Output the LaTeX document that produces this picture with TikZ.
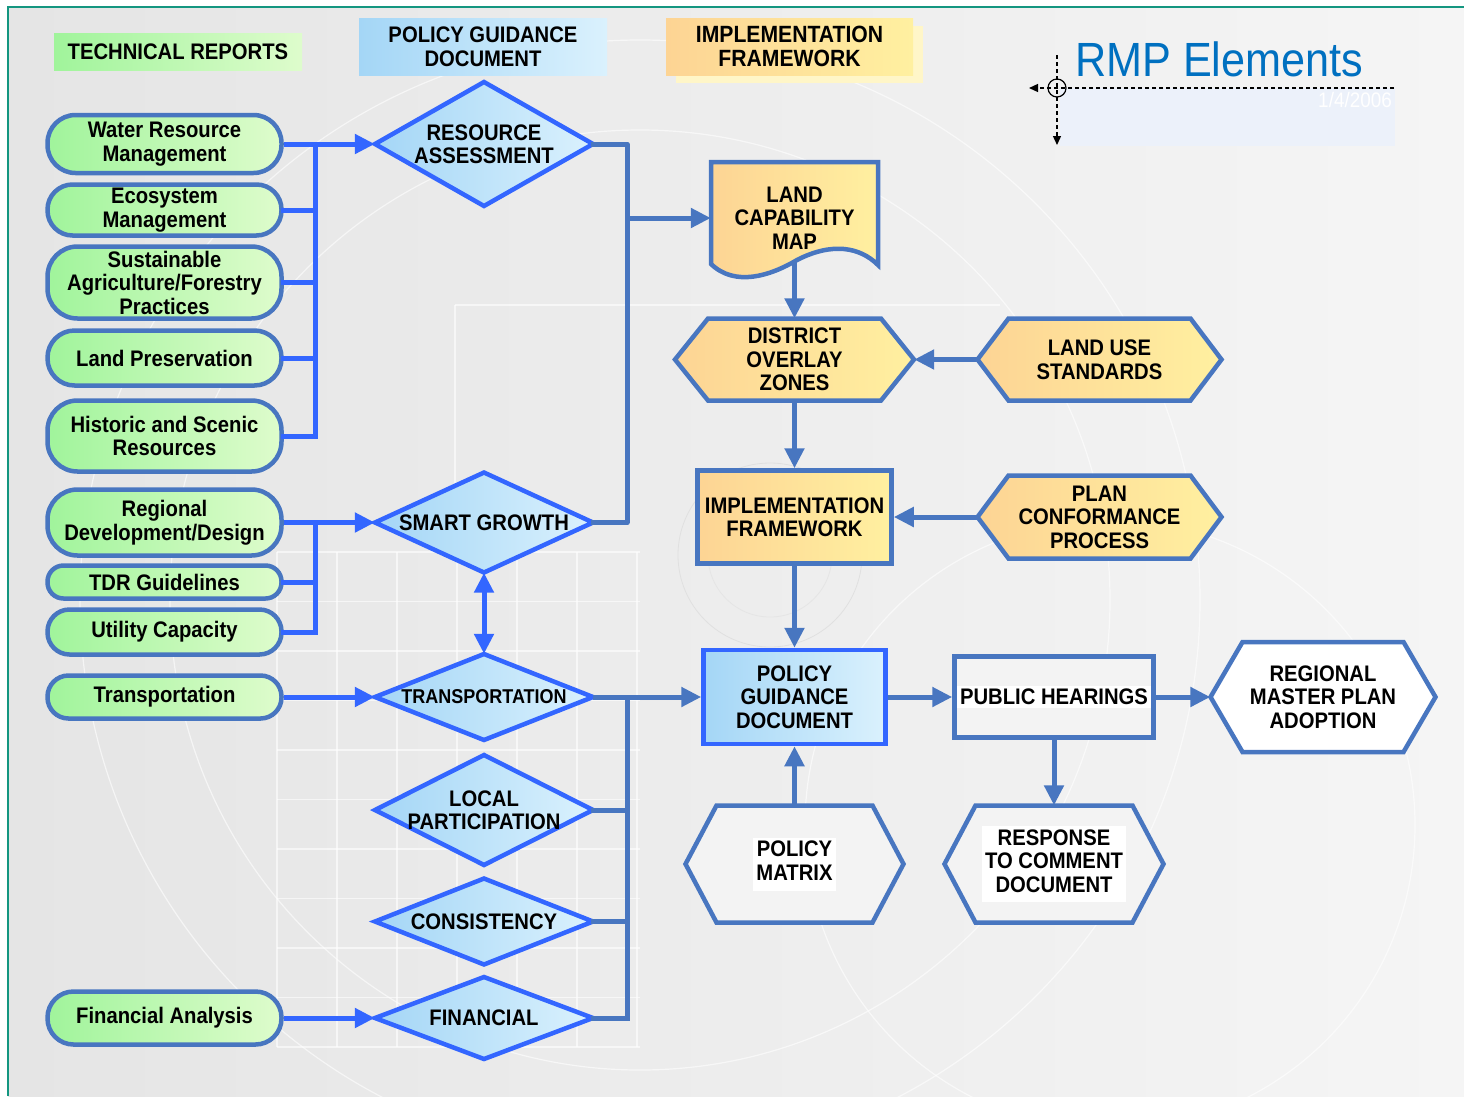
\documentclass[tikz,border=0pt]{standalone}
\usepackage{fontspec}
\setmainfont{Liberation Sans}[FakeStretch=0.9]
\usetikzlibrary{arrows.meta,calc}

\definecolor{steel}{RGB}{72,118,192}
\definecolor{bright}{RGB}{51,102,255}
\definecolor{gA}{RGB}{160,244,155}
\definecolor{gB}{RGB}{222,252,204}
\definecolor{bA}{RGB}{164,214,246}
\definecolor{bB}{RGB}{218,241,253}
\definecolor{yA}{RGB}{253,212,148}
\definecolor{yB}{RGB}{255,240,160}
\definecolor{yS}{RGB}{255,246,200}
\definecolor{wA}{RGB}{243,243,243}
\definecolor{bgl}{RGB}{229,229,229}
\definecolor{bgr}{RGB}{245,245,245}
\definecolor{tealline}{RGB}{20,150,128}
\definecolor{rmpblue}{RGB}{0,112,192}
\definecolor{rmpbox}{RGB}{236,241,250}

\newcommand\fb{\fontsize{22.5}{23.5}\selectfont\bfseries}
\newcommand\fbs{\fontsize{20}{22}\selectfont\bfseries}

\tikzset{
 tx/.style={shape=rectangle, inner sep=0pt, align=center, font=\fb, text=black},
 pill/.style={tx, draw=steel, line width=4.5pt, left color=gA, right color=gB, minimum width=234pt, rounded corners=#1},
 dshape/.style={draw=bright, line width=4.5pt, left color=bA, right color=bB, line join=miter},
 yshape/.style={draw=steel, line width=4.5pt, left color=yA, right color=yB, line join=miter},
 wshape/.style={draw=steel, line width=4.5pt, fill=wA, line join=miter},
 whshape/.style={draw=steel, line width=4.5pt, fill=white, line join=miter},
 bline/.style={draw=bright, line width=5pt, line cap=rect, line join=round},
 sline/.style={draw=steel, line width=5pt, line cap=rect, line join=round},
 arr/.style={-{Triangle[length=20pt,width=19pt]}, line cap=butt},
 darr/.style={{Triangle[length=20pt,width=19pt]}-{Triangle[length=20pt,width=19pt]}, line cap=butt},
 deco/.style={draw=white, line width=1.2pt, opacity=0.6},
 dline/.style={draw=black, line width=1.3pt, dash pattern=on 4pt off 3pt},
}

% #1 name #2 cx #3 cy #4 halfw #5 halfh #6 inset #7 style #8 text
\newcommand\hexnode[8]{%
 \path[#7] (#2-#4,#3) -- (#2-#4+#6,#3-#5) -- (#2+#4-#6,#3-#5) -- (#2+#4,#3) -- (#2+#4-#6,#3+#5) -- (#2-#4+#6,#3+#5) -- cycle;
 \node[tx, minimum width=2*#4pt, minimum height=2*#5pt] (#1) at (#2,#3) {#8};}
% #1 name #2 cx #3 cy #4 halfw #5 halfh #6 text
\newcommand\dianode[6]{%
 \path[dshape] (#2-#4,#3) -- (#2,#3-#5) -- (#2+#4,#3) -- (#2,#3+#5) -- cycle;
 \node[tx, minimum width=2*#4pt, minimum height=2*#5pt] (#1) at (#2,#3) {#6};}

\begin{document}
\begin{tikzpicture}[x=1pt,y=-1pt]
\useasboundingbox (0,0) rectangle (1464,1096);
\fill[white] (0,0) rectangle (1464,1096);
\shade[left color=bgl, right color=bgr] (8,7) rectangle (1464,1096);

% background decoration
\begin{scope}
 \clip (8,7) rectangle (1464,1096);
 \foreach \i in {0,...,6} \draw[deco] (277+60*\i,552) -- (277+60*\i,1047);
 \foreach \i in {0,...,10} \draw[deco] (277,552+49.5*\i) -- (640,552+49.5*\i);
 \draw[deco] (1110,825) circle[radius=305];
 \draw[deco] (640,600) circle[radius=560];
 \draw[deco] (640,600) circle[radius=470];
 \draw[deco] (455,305) -- (1000,305);
 \draw[deco] (455,305) -- (455,552);
 \draw[draw=black!12, line width=0.8pt] (770,555) circle[radius=92];
 \draw[draw=black!10, line width=0.8pt] (770,555) circle[radius=62];
\end{scope}
\draw[tealline, line width=2pt] (8,1096) -- (8,7) -- (1464,7);

% headers
\node[tx, left color=gA, right color=gB, minimum width=248pt, minimum height=37pt] (hTR) at (178,52) {TECHNICAL REPORTS};
\node[tx, left color=bA, right color=bB, minimum width=248pt, minimum height=57pt] (hPG) at (483,46.5) {POLICY GUIDANCE\\DOCUMENT};
\fill[yS] (676,26) rectangle (923,83);
\node[tx, left color=yA, right color=yB, minimum width=247pt, minimum height=57pt, font=\fontsize{23.5}{24}\selectfont\bfseries] (hIF) at (789.5,46.5) {IMPLEMENTATION\\FRAMEWORK};

% RMP title block
\fill[rmpbox] (1060,88) rectangle (1395,146);
\node[anchor=base west, inner sep=0pt, font=\fontsize{48}{50}\selectfont, text=rmpblue] (title) at (1075,76) {RMP Elements};
\node[anchor=base east, inner sep=0pt, font=\fontsize{21}{22}\selectfont, text=white] (date) at (1392,107) {1/4/2006};
\coordinate (cc) at (1057,88);
\coordinate (hR) at (1394,88);
\coordinate (hL) at (1029,88);
\coordinate (vT) at (1057,55);
\coordinate (vB) at (1057,145);
\draw[dline, -{Triangle[length=9pt,width=8pt]}] (hR) -- (hL);
\draw[dline, -{Triangle[length=9pt,width=8pt]}] (vT) -- (vB);
\draw[black, line width=1.2pt] (cc) circle[radius=9];

% left pills
\node[pill=28pt, minimum height=58pt] (wrm) at (164.5,144) {Water Resource\\Management};
\node[pill=25pt, minimum height=51pt] (eco) at (164.5,210) {Ecosystem\\Management};
\node[pill=30pt, minimum height=72pt] (sap) at (164.5,282.5) {Sustainable\\Agriculture/Forestry\\Practices};
\node[pill=27pt, minimum height=55pt] (lpr) at (164.5,358) {Land Preservation};
\node[pill=30pt, minimum height=71pt] (hsr) at (164.5,436) {Historic and Scenic\\Resources};
\node[pill=30pt, minimum height=66pt] (rdd) at (164.5,522.5) {Regional\\Development/Design};
\node[pill=16pt, minimum height=33pt] (tdr) at (164.5,582) {TDR Guidelines};
\node[pill=22pt, minimum height=45pt] (uc) at (164.5,632) {Utility Capacity};
\node[pill=21pt, minimum height=43pt] (tpn) at (164.5,697) {Transportation};
\node[pill=26pt, minimum height=53pt] (fa) at (164.5,1018) {Financial Analysis};

% diamonds
\dianode{ra}{484}{144}{109}{62}{RESOURCE\\ASSESSMENT}
\dianode{sg}{484}{522.5}{109}{50}{SMART GROWTH}
\dianode{tr}{484}{697}{109}{43}{{\fbs TRANSPORTATION}}
\dianode{lp}{484}{810}{109}{55}{LOCAL\\PARTICIPATION}
\dianode{cons}{484}{921.5}{109}{43}{CONSISTENCY}
\dianode{fin}{484}{1018}{109}{41}{FINANCIAL}

% land capability map (document shape)
\path[yshape] (711,162) -- (878,162) -- (878,265) .. controls (860,247) and (832,242) .. (797,260) .. controls (770,276) and (735,287) .. (711,264) -- cycle;
\node[tx, minimum width=167pt, minimum height=112pt] (lcm) at (794.5,218) {LAND\\CAPABILITY\\MAP};

% hexagons
\hexnode{dz}{794.5}{359.5}{119.5}{41}{33}{yshape}{DISTRICT\\OVERLAY\\ZONES}
\hexnode{lu}{1099.5}{359.5}{122}{41}{31}{yshape}{LAND USE\\STANDARDS}
\hexnode{pc}{1099.5}{517}{122}{41.5}{31}{yshape}{PLAN\\CONFORMANCE\\PROCESS}
\hexnode{rmp}{1323}{697}{112.5}{55}{32}{whshape}{REGIONAL\\MASTER PLAN\\ADOPTION}
\hexnode{pm}{794.5}{864}{109}{58.5}{31}{wshape}{\colorbox{white}{\begin{tabular}{@{}c@{}}POLICY\\MATRIX\end{tabular}}}
\hexnode{resp}{1054}{864}{109.5}{58.5}{31}{wshape}{\colorbox{white}{\begin{tabular}{@{}c@{}}RESPONSE\\TO COMMENT\\DOCUMENT\end{tabular}}}

% boxes
\node[tx, draw=steel, line width=4.5pt, left color=yA, right color=yB, minimum width=194pt, minimum height=93pt] (impl) at (794.5,517) {IMPLEMENTATION\\FRAMEWORK};
\node[tx, draw=bright, line width=4.5pt, left color=bA, right color=bB, minimum width=182pt, minimum height=94pt] (pgd) at (794.5,697) {POLICY\\GUIDANCE\\DOCUMENT};
\node[tx, draw=steel, line width=4.5pt, fill=wA, minimum width=199pt, minimum height=81pt] (ph) at (1054,697) {\colorbox{white}{PUBLIC HEARINGS}};

% left connectors
\coordinate (bx1) at (315,0);
\draw[bline, arr] (wrm.east) -- (ra.west);
\draw[bline] (wrm.east -| bx1) -- (hsr.east -| bx1);
\foreach \n in {eco,sap,lpr,hsr} \draw[bline] (\n.east) -- (\n.east -| bx1);
\draw[bline, arr] (rdd.east) -- (sg.west);
\draw[bline] (rdd.east -| bx1) -- (uc.east -| bx1);
\foreach \n in {tdr,uc} \draw[bline] (\n.east) -- (\n.east -| bx1);
\draw[bline, arr] (tpn.east) -- (tr.west);
\draw[bline, arr] (fa.east) -- (fin.west);
\draw[bline, darr] (sg.south) -- (tr.north);

% right connectors
\coordinate (bx2) at (627,0);
\draw[sline] (ra.east) -- (ra.east -| bx2) -- (sg.east -| bx2) -- (sg.east);
\draw[sline, arr] (lcm.west -| bx2) -- (lcm.west);
\draw[sline, arr] (tr.east) -- (pgd.west);
\draw[sline] (tr.east -| bx2) -- (fin.east -| bx2);
\foreach \n in {lp,cons,fin} \draw[sline] (\n.east) -- (\n.east -| bx2);

\draw[sline, arr] ([yshift=13pt]lcm.south) -- (dz.north);
\draw[sline, arr] (lu.west) -- (dz.east);
\draw[sline, arr] (dz.south) -- (impl.north);
\draw[sline, arr] (pc.west) -- (impl.east);
\draw[sline, arr] (impl.south) -- (pgd.north);
\draw[sline, arr] (pgd.east) -- (ph.west);
\draw[sline, arr] (ph.east) -- (rmp.west);
\draw[sline, arr] (ph.south) -- (resp.north);
\draw[sline, arr] (pm.north) -- (pgd.south);
\end{tikzpicture}
\end{document}
